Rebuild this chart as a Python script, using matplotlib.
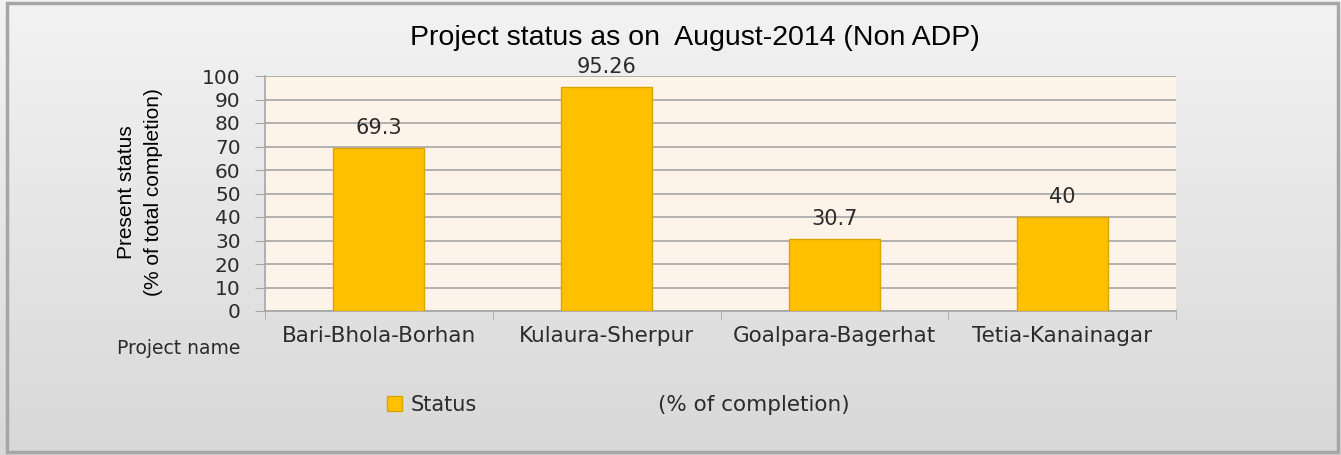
import numpy as np
import matplotlib
matplotlib.use('Agg')
import matplotlib.pyplot as plt
from matplotlib.patches import Rectangle, Patch

# data
projects = ['Bari-Bhola-Borhan', 'Kulaura-Sherpur', 'Goalpara-Bagerhat', 'Tetia-Kanainagar']
status = [69.3, 95.26, 30.7, 40]
status_labels = ['69.3', '95.26', '30.7', '40']
yticks = list(range(0, 101, 10))

bar_color = '#FFC000'
bar_edge = '#D9A400'
text_color = '#2b2b2b'

fig = plt.figure(figsize=(13.41, 4.55), dpi=100)

# background gradient for the whole chart area
bg = fig.add_axes([0, 0, 1, 1], zorder=-10)
grad = np.linspace(0, 1, 256).reshape(-1, 1)
bg.imshow(grad, aspect='auto', cmap=matplotlib.colors.LinearSegmentedColormap.from_list('g', ['#f3f3f3', '#d8d8d8']),
          extent=[0, 1, 0, 1], origin='upper')
bg.add_patch(Rectangle((7/1341, 3/455), 1331/1341, 449/455, fill=False, edgecolor='#a6a6a6', lw=2.5,
                       transform=bg.transAxes))
bg.set_xlim(0, 1)
bg.set_ylim(0, 1)
bg.axis('off')

ax = fig.add_axes([265/1341, 1 - 311/455, 911/1341, 235/455])
ax.set_facecolor('#FEF3E8')
x = np.arange(len(projects))
ax.bar(x, status, width=0.40, color=bar_color, edgecolor=bar_edge, lw=1, zorder=3)
for xi, v, lab in zip(x, status, status_labels):
    ax.text(xi, v + 8.5, lab, ha='center', va='center', fontsize=15, color=text_color,
            family='DejaVu Sans')

ax.set_xlim(-0.5, len(projects) - 0.5)
ax.set_ylim(0, 100)
ax.set_yticks(yticks)
ax.set_yticklabels([str(t) for t in yticks], fontsize=14.5, color=text_color, family='DejaVu Sans')
ax.yaxis.grid(True, color='#a6a6a6', lw=1.2, zorder=1)
ax.set_axisbelow(True)

ax.set_xticks(x)
ax.set_xticklabels(projects, fontsize=15.5, color=text_color, family='DejaVu Sans')
ax.set_xticks(np.arange(-0.5, len(projects)), minor=True)
ax.tick_params(axis='x', which='major', length=0, pad=11)
ax.tick_params(axis='x', which='minor', length=6, color='#a6a6a6')
ax.tick_params(axis='y', length=7.5, color='#a6a6a6', pad=10)

for s in ['top', 'right']:
    ax.spines[s].set_visible(False)
for s in ['left', 'bottom']:
    ax.spines[s].set_color('#a6a6a6')
    ax.spines[s].set_linewidth(1.2)

fig.text(140/1341, 1 - 192/455, 'Present status\n(% of total completion)', ha='center', va='center',
         rotation=90, multialignment='center', fontsize=15, color='black',
         family='Liberation Sans', linespacing=1.55)

fig.text(695/1341, 1 - 38/455, 'Project status as on  August-2014 (Non ADP)', ha='center', va='center',
         fontsize=20.5, color='black', family='Liberation Sans')
fig.text(179/1341, 1 - 348/455, 'Project name', ha='center', va='center', fontsize=13.5,
         color=text_color, family='DejaVu Sans')

leg = fig.legend(handles=[Patch(facecolor=bar_color, edgecolor=bar_edge, label='Status')],
                 loc='center left', bbox_to_anchor=(368/1341, 1 - 405/455), frameon=False,
                 prop={'family': 'DejaVu Sans', 'size': 15}, handlelength=0.75, handleheight=0.75,
                 handletextpad=0.4)
for t in leg.get_texts():
    t.set_color(text_color)
fig.text(658/1341, 1 - 405/455, '(% of completion)', ha='left', va='center', fontsize=15.5,
         color=text_color, family='DejaVu Sans')

fig.savefig('out.png', dpi=100)
